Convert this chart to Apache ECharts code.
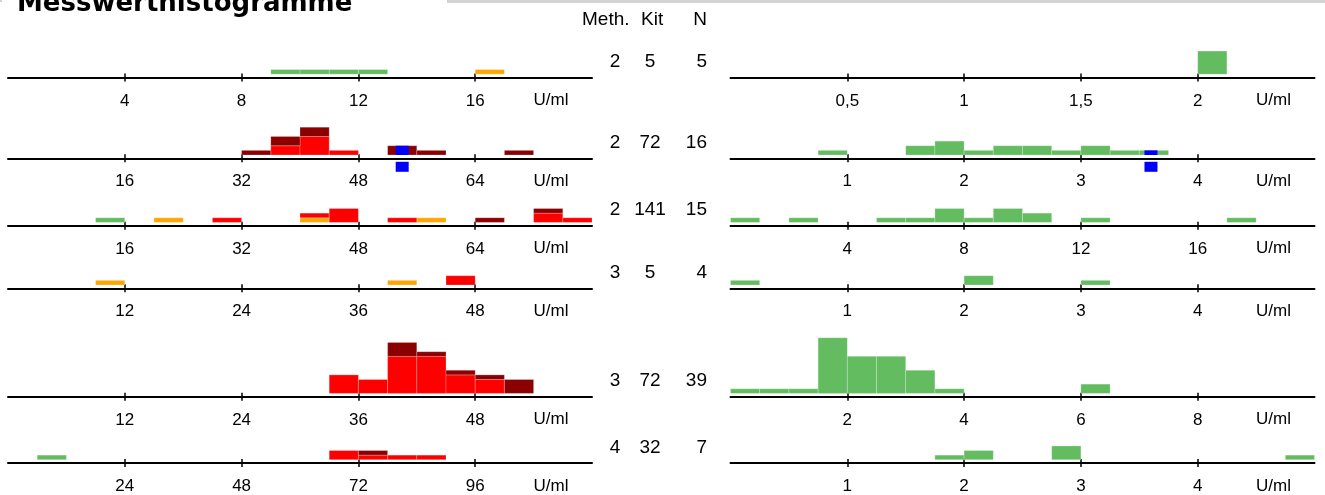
<!DOCTYPE html>
<html>
<head>
<meta charset="utf-8">
<title>Messwerthistogramme</title>
<script src="https://cdn.jsdelivr.net/npm/echarts@6.0.0/dist/echarts.min.js"></script>
<style>
html, body { margin: 0; padding: 0; background: #fff; }
#chart { width: 1325px; height: 495px; }
</style>
</head>
<body>
<div id="chart"></div>
<script>
// Tabelle in der Mitte
const meth = [2, 2, 2, 3, 3, 4];
const kit = [5, 72, 141, 5, 72, 32];
const nWerte = [5, 16, 15, 4, 39, 7];

// Achsen: Maximum und Tickabstand (je 20 Klassen pro Achse)
const linksMax = [20, 80, 80, 60, 60, 120];
const linksTicks = [4, 16, 16, 12, 12, 24];
const rechtsMax = [2.5, 5, 20, 5, 10, 5];
const rechtsTicks = [0.5, 1, 4, 1, 2, 1];

// Histogramme links: [Klassenanfang, Anzahl] je Farbe
const l1Gruen = [[9, 1], [10, 1], [11, 1], [12, 1]];
const l1Orange = [[16, 1]];
const l2Rot = [[36, 2], [40, 4], [44, 1]];
const l2Dunkelrot = [[32, 1], [36, 2], [40, 2], [52, 2], [56, 1], [68, 1]];
const l3Gruen = [[12, 1]];
const l3Orange = [[20, 1], [40, 1], [56, 1]];
const l3Rot = [[28, 1], [40, 1], [44, 3], [52, 1], [72, 2], [76, 1]];
const l3Dunkelrot = [[64, 1], [72, 1]];
const l4Orange = [[9, 1], [39, 1]];
const l4Rot = [[45, 2]];
const l5Rot = [[33, 4], [36, 3], [39, 8], [42, 8], [45, 4], [48, 3]];
const l5Dunkelrot = [[39, 3], [42, 1], [45, 1], [48, 1], [51, 3]];
const l6Gruen = [[6, 1]];
const l6Rot = [[66, 2], [72, 1], [78, 1], [84, 1]];
const l6Dunkelrot = [[72, 1]];

// Histogramme rechts (alle grün)
const r1Gruen = [[2, 5]];
const r2Gruen = [[0.75, 1], [1.5, 2], [1.75, 3], [2, 1], [2.25, 2], [2.5, 2], [2.75, 1], [3, 2], [3.25, 1], [3.5, 1]];
const r3Gruen = [[0, 1], [2, 1], [5, 1], [6, 1], [7, 3], [8, 1], [9, 3], [10, 2], [12, 1], [17, 1]];
const r4Gruen = [[0, 1], [2, 2], [3, 1]];
const r5Gruen = [[0, 1], [0.5, 1], [1, 1], [1.5, 12], [2, 8], [2.5, 8], [3, 5], [3.5, 1], [6, 2]];
const r6Gruen = [[1.75, 1], [2, 2], [2.75, 3], [4.75, 1]];

// blaue Markierung
const l2Marke = [54];
const r2Marke = [3.6];

const links = [
    { gruen: l1Gruen, orange: l1Orange },
    { rot: l2Rot, dunkelrot: l2Dunkelrot, marke: l2Marke },
    { gruen: l3Gruen, orange: l3Orange, rot: l3Rot, dunkelrot: l3Dunkelrot },
    { orange: l4Orange, rot: l4Rot },
    { rot: l5Rot, dunkelrot: l5Dunkelrot },
    { gruen: l6Gruen, rot: l6Rot, dunkelrot: l6Dunkelrot }
];
const rechts = [
    { gruen: r1Gruen },
    { gruen: r2Gruen, marke: r2Marke },
    { gruen: r3Gruen },
    { gruen: r4Gruen },
    { gruen: r5Gruen },
    { gruen: r6Gruen }
];

// Layout
const achseY = [77.5, 158.3, 225.7, 288.3, 396.7, 463.5];
const gridH = 66;
const pxProWert = 4.63;
const yMin = -3.3 / pxProWert;
const yMax = yMin + gridH / pxProWert;
const linksX = 8, rechtsX = 730.5, breite = 584;
const schrift = 'Liberation Sans, Arial, sans-serif';

const farben = { gruen: '#63bc5f', orange: '#ffa500', rot: '#ff0000', dunkelrot: '#8b0000' };
const reihenfolge = ['gruen', 'orange', 'rot', 'dunkelrot'];

function zahl(v) {
    return String(v).replace('.', ',');
}

function rechteck(params, api) {
    const p0 = api.coord([api.value(0), api.value(3)]);
    const p1 = api.coord([api.value(1), api.value(2)]);
    return {
        type: 'rect',
        shape: { x: p0[0], y: p0[1], width: p1[0] - p0[0], height: p1[1] - p0[1] },
        style: { fill: api.visual('color'), stroke: 'rgba(255,255,255,0.22)', lineWidth: 1 }
    };
}

function marke(params, api) {
    const p = api.coord([api.value(0), api.value(1)]);
    const b = api.coord([api.value(0), 0]);
    const u = api.coord([api.value(0), yMin]);
    return {
        type: 'group',
        children: [
            { type: 'rect', shape: { x: p[0] - 6.5, y: p[1], width: 13, height: b[1] - p[1] }, style: { fill: '#0000ff' } },
            { type: 'rect', shape: { x: p[0] - 6.5, y: u[1] + 3.5, width: 13, height: 10 }, style: { fill: '#0000ff' } }
        ]
    };
}

const grids = [], xAxes = [], yAxes = [], series = [], graphic = [];

function panel(daten, max, tick, x, y) {
    const gi = grids.length;
    grids.push({ left: x, top: y - gridH, width: breite, height: gridH });
    const werte = [];
    for (let v = tick; v < max - 1e-9; v += tick) werte.push(Math.round(v * 1000) / 1000);
    xAxes.push({
        gridIndex: gi, type: 'value', min: 0, max: max, position: 'bottom',
        axisLine: { onZero: false, lineStyle: { color: '#000', width: 2 } },
        axisTick: { customValues: werte, length: 4, lineStyle: { color: '#000', width: 1.5 } },
        axisLabel: {
            customValues: werte, formatter: zahl, color: '#000',
            fontSize: 17, fontFamily: schrift, margin: 15
        },
        splitLine: { show: false }
    });
    // zweite Achse nur für den nach oben zeigenden Teil der Ticks
    xAxes.push({
        gridIndex: gi, type: 'value', min: 0, max: max, position: 'bottom',
        axisLine: { show: false, onZero: false },
        axisTick: { customValues: werte, inside: true, length: 4, lineStyle: { color: '#000', width: 1.5 } },
        axisLabel: { show: false },
        splitLine: { show: false }
    });
    yAxes.push({ gridIndex: gi, type: 'value', min: yMin, max: yMax, show: false });

    const klasse = max / 20;
    const basis = {};
    reihenfolge.forEach(function (f) {
        if (!daten[f]) return;
        const d = daten[f].map(function (k) {
            const b = basis[k[0]] || 0;
            basis[k[0]] = b + k[1];
            return [k[0], k[0] + klasse, b, b + k[1]];
        });
        series.push({
            type: 'custom', name: f, xAxisIndex: xAxes.length - 2, yAxisIndex: gi,
            renderItem: rechteck, itemStyle: { color: farben[f] },
            encode: { x: [0, 1], y: [2, 3] }, data: d, silent: true
        });
    });
    if (daten.marke) {
        series.push({
            type: 'custom', name: 'Messwert', xAxisIndex: xAxes.length - 2, yAxisIndex: gi,
            renderItem: marke, clip: false, silent: true,
            data: daten.marke.map(function (v) {
                const k = Math.round(Math.floor(v / klasse) * klasse * 1000) / 1000;
                return [v, basis[k] || 0];
            })
        });
    }
    graphic.push({
        type: 'text', x: x + breite - 41, y: y + 23,
        style: { text: 'U/ml', fontSize: 17, fontFamily: schrift, fill: '#000', align: 'center', verticalAlign: 'middle' }
    });
}

for (let i = 0; i < 6; i++) {
    panel(links[i], linksMax[i], linksTicks[i], linksX, achseY[i]);
    panel(rechts[i], rechtsMax[i], rechtsTicks[i], rechtsX, achseY[i]);
}

// Kopf
graphic.push({ type: 'rect', shape: { x: 447, y: 0, width: 878, height: 3 }, style: { fill: '#d3d3d3' } });
graphic.push({ type: 'rect', shape: { x: 0, y: 0, width: 2, height: 2 }, style: { fill: '#d3d3d3' } });
graphic.push({
    type: 'text', x: 17, y: 4,
    style: { text: 'Messwerthistogramme', fontSize: 26, fontWeight: 'bold', fontFamily: 'DejaVu Sans', fill: '#000', verticalAlign: 'middle' }
});
const kopf = { fontSize: 19, fontFamily: schrift, fill: '#000', verticalAlign: 'middle' };
graphic.push({ type: 'text', x: 582, y: 20, style: Object.assign({ text: 'Meth.' }, kopf) });
graphic.push({ type: 'text', x: 641, y: 20, style: Object.assign({ text: 'Kit' }, kopf) });
graphic.push({ type: 'text', x: 707, y: 20, style: Object.assign({ text: 'N', align: 'right' }, kopf) });
for (let i = 0; i < 6; i++) {
    const ty = achseY[i] - 15.5;
    graphic.push({ type: 'text', x: 615, y: ty, style: Object.assign({ text: String(meth[i]), align: 'center' }, kopf) });
    graphic.push({ type: 'text', x: 650, y: ty, style: Object.assign({ text: String(kit[i]), align: 'center' }, kopf) });
    graphic.push({ type: 'text', x: 707, y: ty, style: Object.assign({ text: String(nWerte[i]), align: 'right' }, kopf) });
}

const options = {
    animation: false,
    grid: grids,
    xAxis: xAxes,
    yAxis: yAxes,
    series: series,
    graphic: graphic
};

const E = echarts.init(document.getElementById('chart'));
window.onresize = function () {
    E.resize();
};
E.setOption(options);
</script>
</body>
</html>
